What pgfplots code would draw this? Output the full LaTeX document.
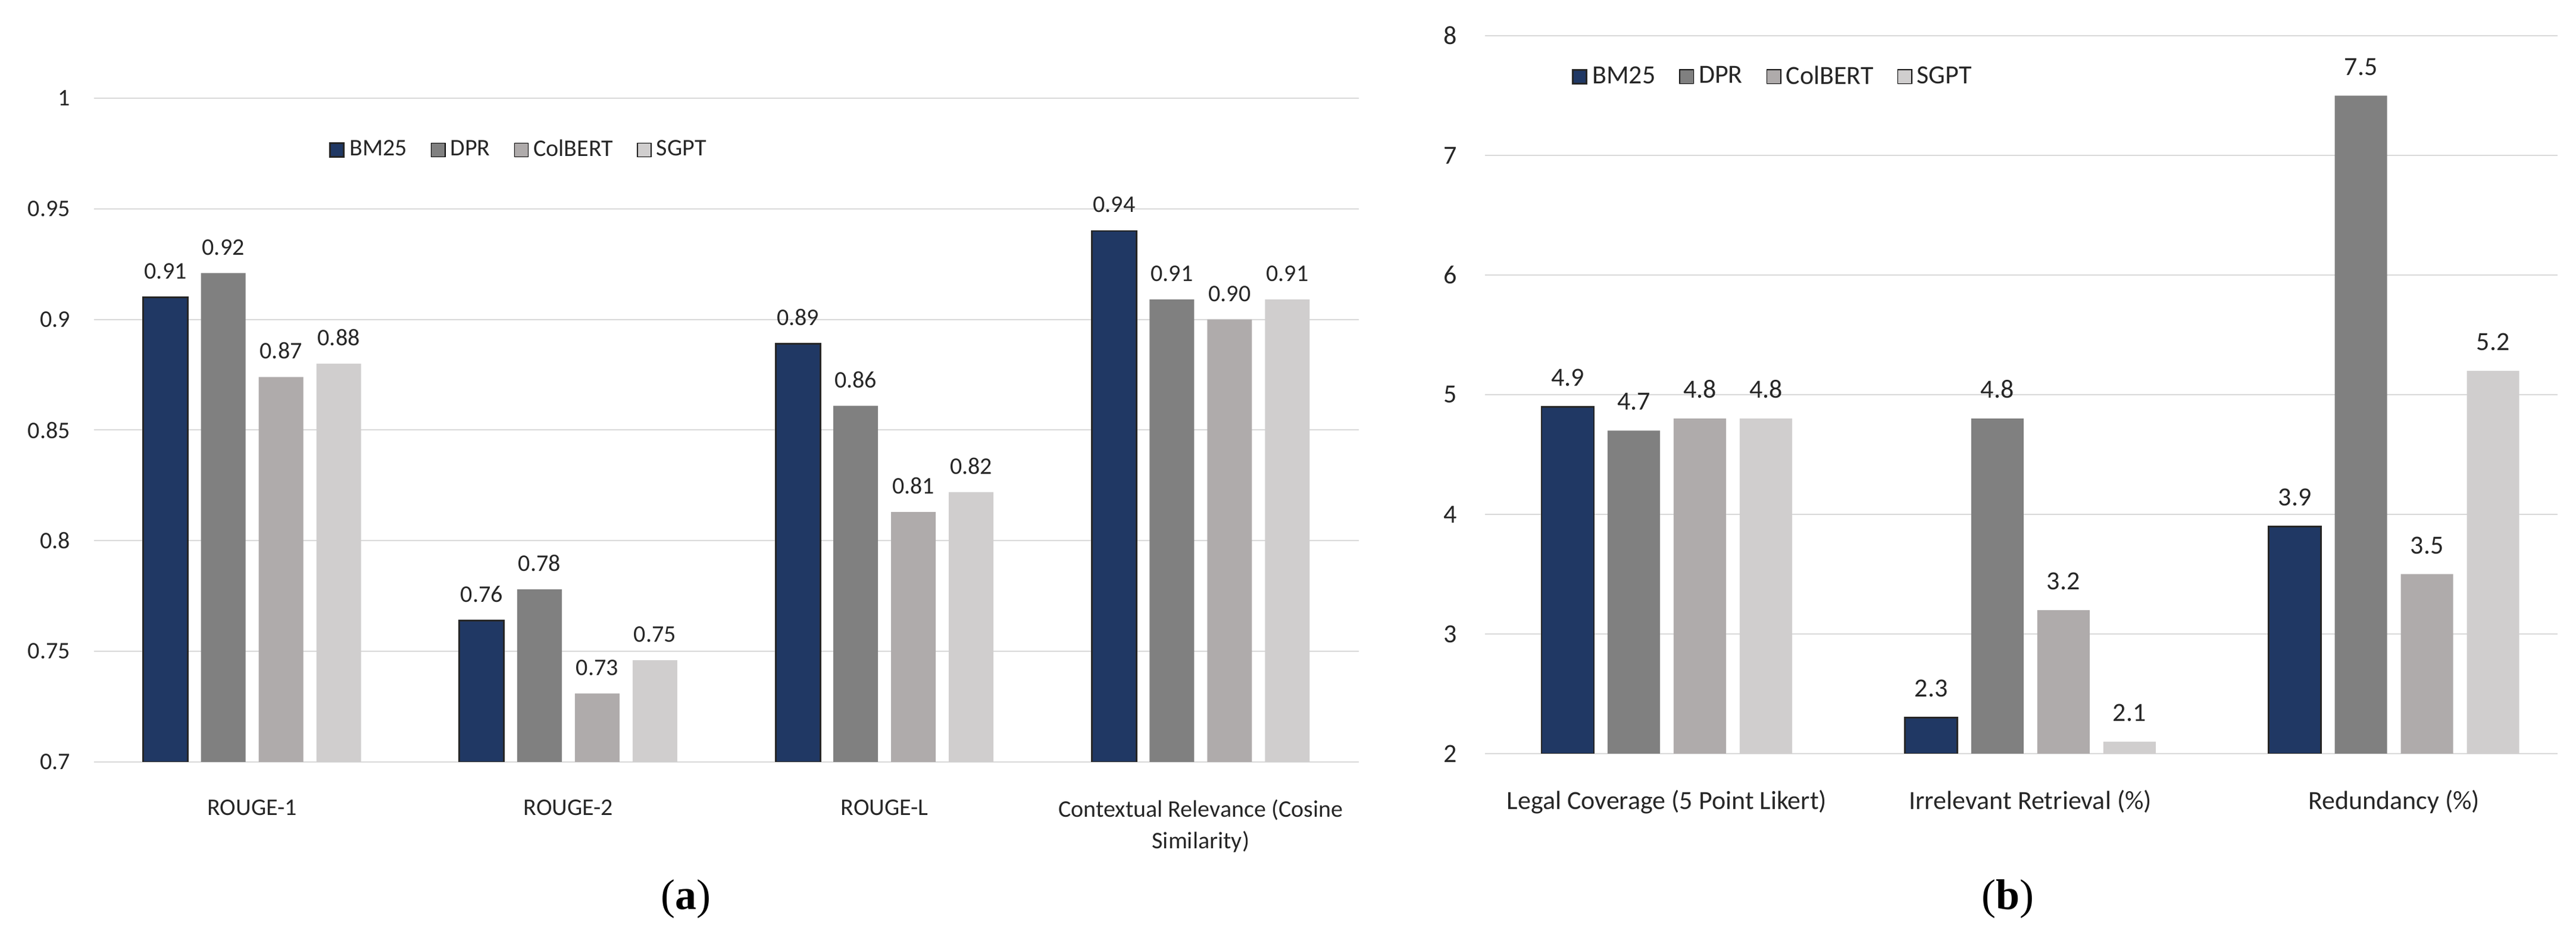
\documentclass[border=0pt]{standalone}
\usepackage{fontspec}
\setmainfont{Carlito}
\newfontfamily\capfont{Liberation Serif}
\usepackage{pgfplots}
\pgfplotsset{compat=1.18}
\definecolor{bmblue}{HTML}{203864}
\definecolor{dprgray}{HTML}{808080}
\definecolor{colgray}{HTML}{AFABAB}
\definecolor{sgptgray}{HTML}{D0CECE}
\definecolor{gridgray}{HTML}{D9D9D9}
\definecolor{txt}{HTML}{262626}

\pgfplotsset{
  barstyle/.style={
    scale only axis, ybar,
    axis line style={draw=none}, tick style={draw=none},
    ymajorgrids, major grid style={gridgray, line width=0.5pt},
    /pgf/number format/assume math mode=true,
    ticklabel style={text=txt},
    legend columns=4,
    legend style={draw=none, fill=none, anchor=west, text=txt,
      /tikz/every even column/.append style={column sep=8pt}},
    every node near coord/.append style={text=txt},
  },
  sqlegend/.style={legend image code/.code={\draw[##1] (0pt,-2.9pt) rectangle (5.8pt,2.9pt);}},
  bmstyle/.style={fill=bmblue, draw=black!85, line width=0.7pt, sqlegend},
  dprstyle/.style={fill=dprgray, draw=none, sqlegend},
  colstyle/.style={fill=colgray, draw=none, sqlegend},
  sgptstyle/.style={fill=sgptgray, draw=none, sqlegend},
}

\begin{document}
\begin{tikzpicture}
\path[use as bounding box] (0,0) rectangle (1082pt,393.5pt);

% (a) text similarity metrics
\begin{axis}[barstyle,
  at={(39.5pt,73.5pt)}, anchor=south west,
  width=531.25pt, height=278.75pt,
  xmin=-0.5, xmax=3.5, ymin=0.7, ymax=1,
  ytick={0.7,0.75,0.8,0.85,0.9,0.95,1},
  xtick={0,1,2,3},
  xticklabels={ROUGE-1,ROUGE-2,ROUGE-L,{Contextual Relevance (Cosine\\Similarity)}},
  xticklabel style={align=center, yshift=-8pt, font=\fontsize{10}{13.25}\selectfont},
  yticklabel style={xshift=-6.5pt, font=\fontsize{10}{12}\selectfont},
  bar width=18.75pt, ybar=5.5pt,
  legend style={at={(0.18,0.922)}, font=\fontsize{10}{12}\selectfont},
  nodes near coords={\pgfmathprintnumber[fixed,fixed zerofill,precision=2]{\pgfplotspointmeta}},
  every node near coord/.append style={yshift=4pt, font=\fontsize{10}{12}\selectfont},
]
\addplot[bmstyle] coordinates {(0,0.910) (1,0.764) (2,0.889) (3,0.940)};
\addplot[dprstyle] coordinates {(0,0.921) (1,0.778) (2,0.861) (3,0.909)};
\addplot[colstyle] coordinates {(0,0.874) (1,0.731) (2,0.813) (3,0.900)};
\addplot[sgptstyle] coordinates {(0,0.880) (1,0.746) (2,0.822) (3,0.909)};
\legend{BM25,DPR,ColBERT,SGPT}
\end{axis}

% (b) coverage, irrelevant retrieval, redundancy
\begin{axis}[barstyle,
  at={(623.75pt,77pt)}, anchor=south west,
  width=450.5pt, height=301.5pt,
  xmin=-0.5, xmax=2.45, ymin=2, ymax=8,
  ytick={2,3,4,5,6,7,8},
  xtick={0,1,2},
  xticklabels={Legal Coverage (5 Point Likert),Irrelevant Retrieval (\%),Redundancy (\%)},
  xticklabel style={yshift=-7.6pt, font=\fontsize{11}{13}\selectfont},
  yticklabel style={xshift=-8.3pt, font=\fontsize{11}{13}\selectfont},
  bar width=22pt, ybar=5.75pt,
  legend style={at={(0.074,0.943)}, font=\fontsize{11}{13}\selectfont},
  nodes near coords={\pgfmathprintnumber[fixed,fixed zerofill,precision=1]{\pgfplotspointmeta}},
  every node near coord/.append style={yshift=5pt, font=\fontsize{11}{13}\selectfont},
]
\addplot[bmstyle] coordinates {(0,4.9) (1,2.3) (2,3.9)};
\addplot[dprstyle] coordinates {(0,4.7) (1,4.8) (2,7.5)};
\addplot[colstyle] coordinates {(0,4.8) (1,3.2) (2,3.5)};
\addplot[sgptstyle] coordinates {(0,4.8) (1,2.1) (2,5.2)};
\legend{BM25,DPR,ColBERT,SGPT}
\end{axis}

\node[font=\capfont\fontsize{18}{20}\selectfont] at (288pt,16pt) {(\textbf{a})};
\node[font=\capfont\fontsize{18}{20}\selectfont] at (843.25pt,16pt) {(\textbf{b})};
\end{tikzpicture}
\end{document}
